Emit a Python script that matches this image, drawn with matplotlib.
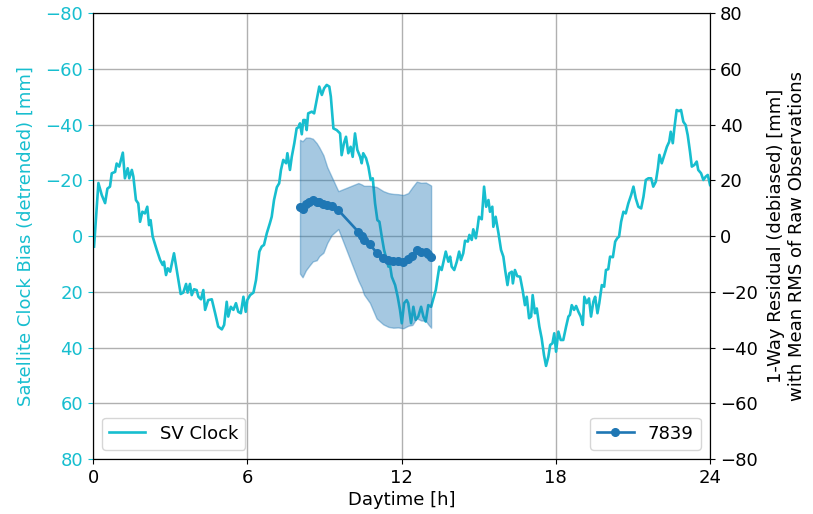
import numpy as np
import matplotlib
matplotlib.use("Agg")
import matplotlib.pyplot as plt

# Satellite clock bias (detrended), mm, versus time of day in hours
clock_hours = [
    0.04, 0.21, 0.34, 0.47, 0.56, 0.66, 0.73, 0.86, 0.92, 1.02, 1.16, 1.24, 1.35, 1.41, 1.51, 1.57,
    1.67, 1.76, 1.83, 1.92, 2.02, 2.11, 2.18, 2.24, 2.32, 2.48, 2.61, 2.71, 2.76, 2.84, 2.91, 3.00,
    3.15, 3.28, 3.41, 3.51, 3.62, 3.68, 3.77, 3.84, 3.93, 4.03, 4.10, 4.20, 4.29, 4.36, 4.48, 4.62,
    4.75, 4.87, 5.01, 5.10, 5.20, 5.26, 5.36, 5.46, 5.56, 5.65, 5.75, 5.85, 5.94, 6.00, 6.11, 6.24,
    6.34, 6.47, 6.56, 6.65, 6.76, 6.88, 6.95, 7.04, 7.15, 7.24, 7.31, 7.40, 7.51, 7.56, 7.66, 7.73,
    7.83, 7.92, 7.99, 8.05, 8.12, 8.18, 8.25, 8.31, 8.37, 8.51, 8.60, 8.70, 8.80, 8.90, 8.99, 9.09,
    9.19, 9.25, 9.35, 9.48, 9.61, 9.67, 9.76, 9.84, 9.93, 10.02, 10.10, 10.19, 10.28, 10.39, 10.45,
    10.51, 10.62, 10.71, 10.80, 10.88, 10.97, 11.06, 11.14, 11.23, 11.32, 11.42, 11.49, 11.55, 11.62,
    11.75, 11.85, 11.94, 12.01, 12.10, 12.20, 12.26, 12.37, 12.46, 12.55, 12.65, 12.76, 12.85, 12.94,
    13.04, 13.15, 13.24, 13.33, 13.41, 13.47, 13.56, 13.66, 13.72, 13.82, 13.89, 13.95, 14.05, 14.15,
    14.24, 14.31, 14.40, 14.47, 14.58, 14.64, 14.73, 14.79, 14.89, 14.96, 15.01, 15.12, 15.21, 15.29,
    15.38, 15.44, 15.53, 15.57, 15.66, 15.77, 15.87, 15.96, 16.03, 16.12, 16.19, 16.29, 16.33, 16.41,
    16.50, 16.61, 16.71, 16.80, 16.87, 16.96, 17.04, 17.10, 17.19, 17.26, 17.36, 17.45, 17.54, 17.62,
    17.71, 17.78, 17.87, 17.94, 18.01, 18.10, 18.19, 18.29, 18.40, 18.49, 18.55, 18.62, 18.71, 18.79,
    18.88, 18.97, 19.05, 19.11, 19.20, 19.29, 19.37, 19.46, 19.53, 19.62, 19.69, 19.79, 19.88, 19.95,
    20.04, 20.11, 20.22, 20.31, 20.39, 20.46, 20.54, 20.63, 20.72, 20.82, 20.93, 21.02, 21.11, 21.21,
    21.32, 21.41, 21.50, 21.60, 21.71, 21.79, 21.89, 21.97, 22.03, 22.12, 22.22, 22.32, 22.41, 22.47,
    22.55, 22.61, 22.70, 22.79, 22.87, 22.96, 23.05, 23.13, 23.22, 23.29, 23.39, 23.48, 23.54, 23.65,
    23.74, 23.83, 23.91, 24.00,
]
clock_bias = [
    3.8, -19.0, -14.7, -11.8, -17.0, -17.7, -22.5, -23.0, -26.0, -24.9, -29.9, -20.7, -24.3, -20.7, -23.7, -21.3,
    -12.9, -11.7, -5.1, -8.7, -8.1, -10.5, -3.9, -5.7, 0.2, 5.0, 8.6, 10.4, 9.2, 14.0, 11.6, 12.8,
    6.2, 13.4, 20.8, 20.3, 17.2, 20.3, 17.2, 21.2, 19.1, 19.4, 21.8, 22.7, 19.4, 26.5, 23.0, 22.7,
    27.7, 32.5, 33.5, 31.9, 23.6, 28.9, 25.4, 26.5, 24.1, 27.2, 27.7, 21.8, 27.2, 23.0, 21.2, 20.3,
    15.8, 5.6, 3.8, 3.2, -1.0, -4.6, -6.9, -12.9, -17.5, -18.9, -23.7, -27.3, -26.1, -29.7, -23.7, -28.4,
    -33.3, -38.6, -39.0, -40.4, -36.5, -41.6, -41.6, -38.0, -44.0, -44.6, -44.0, -48.8, -53.6, -50.6, -53.0, -54.2,
    -53.6, -50.0, -38.6, -38.0, -36.8, -29.0, -33.3, -35.6, -29.7, -32.0, -28.4, -36.8, -30.9, -28.4, -26.1,
    -29.7, -27.9, -24.9, -20.1, -20.7, -11.7, -5.7, -5.1, 0.2, 5.0, 8.6, 11.0, 10.4, 14.6,
    17.6, 21.8, 26.5, 31.3, 24.1, 23.0, 24.1, 31.3, 25.4, 30.1, 28.9, 25.4, 28.9, 30.7,
    24.8, 25.4, 22.4, 19.4, 14.6, 11.0, 12.2, 8.0, 5.6, 9.2, 7.4, 11.0, 12.2, 9.2,
    5.6, 8.6, 6.2, 1.7, 2.0, -0.4, 1.4, -2.4, 0.8, -3.3, -6.9, -6.0, -17.7, -10.5,
    -12.9, -8.7, -10.5, -3.3, -6.9, -1.0, 5.0, 7.4, 12.2, 17.6, 13.4, 12.8, 17.0, 12.2,
    14.4, 14.6, 19.4, 24.8, 21.8, 29.5, 28.9, 21.2, 27.7, 26.0, 32.5, 36.7, 42.7, 46.6,
    43.3, 39.1, 38.5, 34.9, 41.5, 34.3, 37.3, 37.3, 32.5, 28.9, 28.3, 24.8, 26.5, 25.1,
    27.2, 28.9, 31.9, 21.8, 24.1, 22.4, 28.9, 23.6, 21.8, 27.7, 24.1, 17.6, 18.2, 12.2,
    11.9, 7.4, 7.6, 2.0, 0.8, 0.2, -5.1, -8.7, -8.1, -11.7, -14.7, -17.7, -13.5, -10.5,
    -9.9, -14.1, -20.1, -20.7, -20.7, -17.7, -19.5, -24.3, -29.1, -26.1, -29.1, -32.0, -33.8, -37.4,
    -33.3, -38.6, -45.2, -44.8, -45.2, -41.0, -39.8, -36.2, -30.2, -24.9, -25.5, -26.7, -23.7, -22.5,
    -20.1, -21.3, -21.9, -18.3,
]

# 1-way residuals of station 7839 (debiased), mm, with mean RMS of raw observations
res_hours = [8.05, 8.15, 8.28, 8.41, 8.55, 8.70, 8.80, 8.96, 9.11, 9.28, 9.54,
             10.32, 10.45, 10.54, 10.77, 11.03, 11.29, 11.49, 11.68, 11.87, 12.07,
             12.26, 12.42, 12.59, 12.76, 12.94, 13.04, 13.15]
res_value = [10.5, 9.6, 11.5, 12.3, 12.9, 12.3, 12.3, 11.5, 11.1, 10.8, 9.3,
             1.5, 0.0, -1.5, -3.0, -6.0, -7.8, -8.6, -8.9, -8.9, -9.2,
             -8.4, -7.2, -5.0, -5.6, -5.6, -6.5, -7.4]
res_rms = [24.0, 24.4, 23.8, 23.0, 22.0, 21.0, 19.5, 17.5, 13.6, 10.5, 6.8,
           17.5, 18.5, 19.5, 21.0, 23.6, 23.9, 24.0, 24.0, 23.9, 23.9,
           23.8, 24.7, 24.5, 24.7, 24.8, 25.2, 25.5]

x_ticks = [0, 6, 12, 18, 24]
y_ticks = [-80, -60, -40, -20, 0, 20, 40, 60, 80]

clock_color = "#17becf"
res_color = "#1f77b4"

plt.rcParams["font.family"] = "DejaVu Sans"
plt.rcParams["font.size"] = 13

fig = plt.figure(figsize=(8.13, 5.14), dpi=100)
ax = fig.add_axes([0.1144, 0.107, 0.759, 0.8677])

ax.plot(clock_hours, clock_bias, color=clock_color, lw=1.9, label="SV Clock")
ax.set_xlim(0, 24)
ax.set_ylim(80, -80)
ax.set_xticks(x_ticks)
ax.set_yticks(y_ticks)
ax.tick_params(axis="y", colors=clock_color)
ax.set_ylabel("Satellite Clock Bias (detrended) [mm]", color=clock_color, labelpad=8)
ax.set_xlabel("Daytime [h]", labelpad=3)
ax.grid(True, color="#b0b0b0", lw=1.0)
ax.legend(loc="lower left", fontsize=13)

ax2 = ax.twinx()
val = np.array(res_value)
rms = np.array(res_rms)
ax2.fill_between(res_hours, val - rms, val + rms, color=res_color, alpha=0.4, lw=1)
ax2.plot(res_hours, res_value, color=res_color, lw=1.9, marker="o", ms=5.5, label="7839")
ax2.set_ylim(-80, 80)
ax2.set_yticks(y_ticks)
ax2.set_ylabel("1-Way Residual (debiased) [mm]\nwith Mean RMS of Raw Observations", labelpad=7)
ax2.legend(loc="lower right", fontsize=13)

fig.savefig("out.png", dpi=100)
